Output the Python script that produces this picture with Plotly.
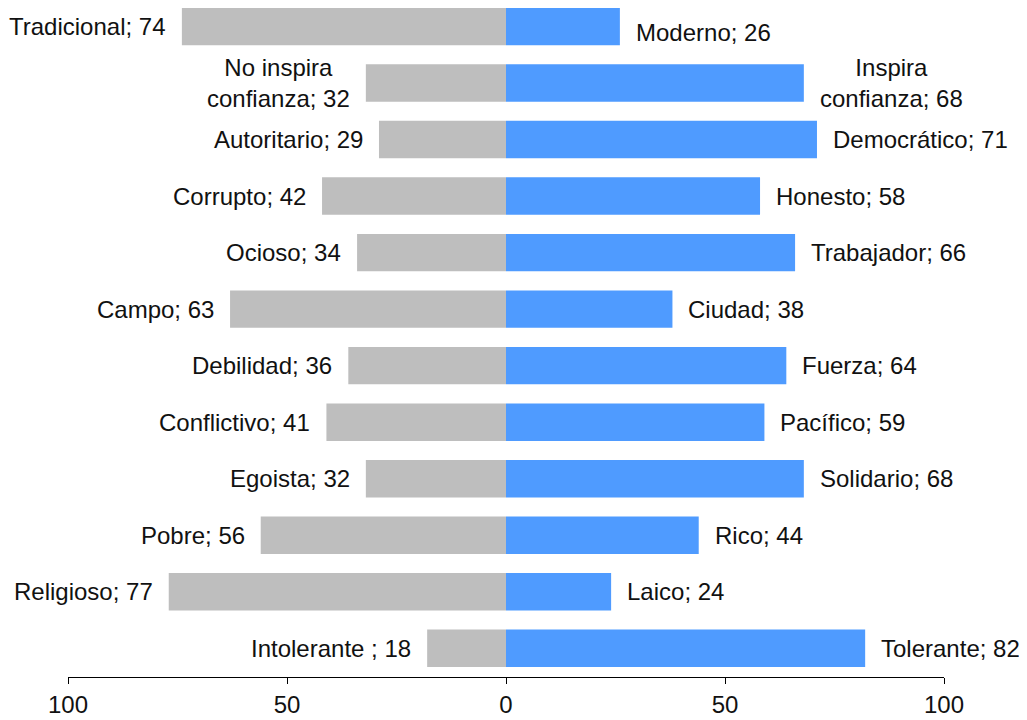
import plotly.graph_objects as go

# rows listed top to bottom
left_labels = ["Tradicional", "No inspira<br>confianza", "Autoritario", "Corrupto", "Ocioso",
               "Campo", "Debilidad", "Conflictivo", "Egoista", "Pobre", "Religioso", "Intolerante "]
left_values = [74, 32, 29, 42, 34, 63, 36, 41, 32, 56, 77, 18]
right_labels = ["Moderno", "Inspira<br>confianza", "Democrático", "Honesto", "Trabajador",
                "Ciudad", "Fuerza", "Pacífico", "Solidario", "Rico", "Laico", "Tolerante"]
right_values = [26, 68, 71, 58, 66, 38, 64, 59, 68, 44, 24, 82]
tick_vals = [-100, -50, 0, 50, 100]
tick_text = ["100", "50", "0", "50", "100"]

n = len(left_values)
rows = [n - 1 - i for i in range(n)]  # first row drawn at the top

fig = go.Figure()
fig.add_trace(go.Bar(y=rows, x=[-v for v in left_values], orientation="h",
                     marker=dict(color="#BEBEBE", line_width=0), width=0.662,
                     hoverinfo="skip"))
fig.add_trace(go.Bar(y=rows, x=right_values, orientation="h",
                     marker=dict(color="#4F9BFF", line_width=0), width=0.662,
                     hoverinfo="skip"))

font = dict(family="Liberation Sans, Arial, sans-serif", size=24, color="#111111")
for r, lab, v in zip(rows, left_labels, left_values):
    fig.add_annotation(x=-v, y=r, xref="x", yref="y", text=f"{lab}; {v}",
                       showarrow=False, xanchor="right", align="center",
                       xshift=-14, font=font)
for r, lab, v in zip(rows, right_labels, right_values):
    fig.add_annotation(x=v, y=r, xref="x", yref="y", text=f"{lab}; {v}",
                       showarrow=False, xanchor="left", align="center",
                       xshift=14, yshift=-6 if r == n - 1 else 0, font=font)

# the page adds an 8px body margin, so the figure is sized to fit the window
fig.update_layout(
    width=1019, height=712,
    barmode="relative",
    showlegend=False,
    paper_bgcolor="white", plot_bgcolor="white",
    margin=dict(l=60, r=83, t=0, b=43),
    font=font,
    xaxis=dict(range=[-100, 100], tickvals=tick_vals, ticktext=tick_text,
               showgrid=False, zeroline=False, showline=True, linecolor="black",
               linewidth=1, ticks="outside", ticklen=6, tickcolor="black",
               tickfont=dict(size=24)),
    yaxis=dict(range=[-0.508, 11.327], visible=False, showgrid=False, zeroline=False),
)

fig.write_html("out.html")
